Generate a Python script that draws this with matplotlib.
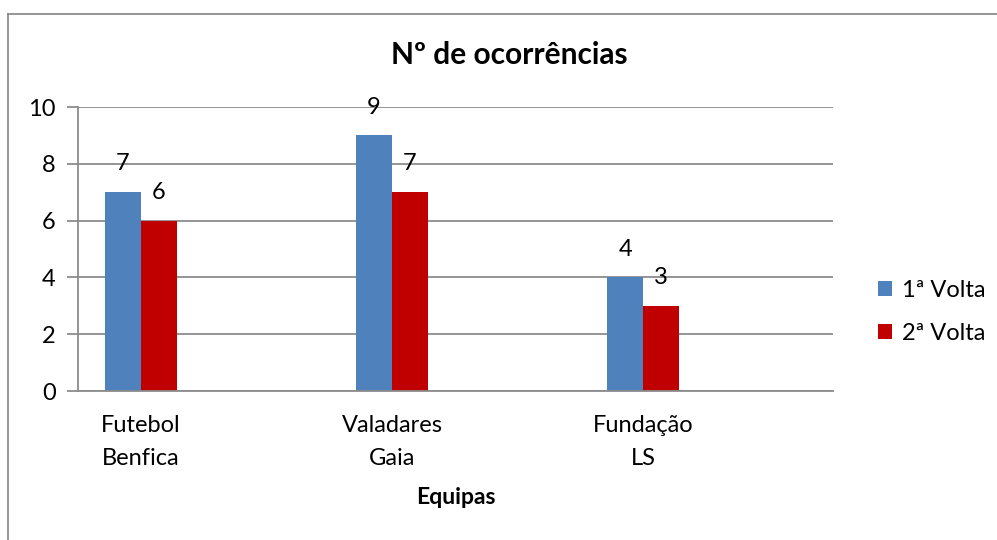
import matplotlib.pyplot as plt
import numpy as np

plt.rcParams['font.family'] = ['Lato', 'DejaVu Sans']

equipas = ["Futebol\nBenfica", "Valadares\nGaia", "Fundação\nLS"]
volta1 = [7, 9, 4]
volta2 = [6, 7, 3]
series_names = ["1ª Volta", "2ª Volta"]
yticks = [0, 2, 4, 6, 8, 10]

W, H = 997, 540
fig = plt.figure(figsize=(W / 100, H / 100), dpi=100)

# gray frame of the chart area (only left/top visible in the reference)
fig.add_artist(plt.Line2D([8 / W, 8 / W], [0, 1 - 14 / H], transform=fig.transFigure,
                          color="#8c8c8c", lw=1.3))
fig.add_artist(plt.Line2D([8 / W, 1], [1 - 14 / H, 1 - 14 / H], transform=fig.transFigure,
                          color="#8c8c8c", lw=1.3))

ax = fig.add_axes([78 / W, (H - 391) / H, (833 - 78) / W, (391 - 107) / H])

x = np.arange(len(equipas))
bw = 0.143
b1 = ax.bar(x - bw / 2, volta1, bw, color="#4f81bd", label=series_names[0])
b2 = ax.bar(x + bw / 2, volta2, bw, color="#c00000", label=series_names[1])

for bars in (b1, b2):
    for r in bars:
        ax.text(r.get_x() + r.get_width() / 2, r.get_height() + 1.0, str(int(r.get_height())),
                ha="center", va="center", fontsize=17)

ax.set_xlim(-0.25, 2.755)
ax.set_ylim(0, 10)
ax.set_yticks(yticks)
ax.set_xticks(x)
ax.set_xticklabels(equipas, fontsize=17)
for lbl in ax.get_xticklabels():
    lbl.set_linespacing(1.75)
ax.tick_params(axis="x", length=0, pad=17)
ax.tick_params(axis="y", length=8, width=1.3, color="#8c8c8c", labelsize=17, pad=8)
ax.yaxis.grid(True, color="#8c8c8c", lw=1.3)
ax.set_axisbelow(True)
for s in ("top", "right"):
    ax.spines[s].set_visible(False)
for s in ("left", "bottom"):
    ax.spines[s].set_color("#8c8c8c")
    ax.spines[s].set_linewidth(1.3)

ax.set_xlabel("Equipas", fontsize=16.5, fontweight="bold", labelpad=13)
fig.text(509 / W, 1 - 55 / H, "Nº de ocorrências", ha="center", va="center",
         fontsize=21.5, fontweight="bold")

fig.legend(handles=[b1, b2], loc="center left", bbox_to_anchor=(857 / W, 1 - 312 / H),
           frameon=False, fontsize=17, handlelength=0.6, handleheight=0.6,
           handletextpad=0.4, labelspacing=0.95)

fig.savefig("out.png", dpi=100)
